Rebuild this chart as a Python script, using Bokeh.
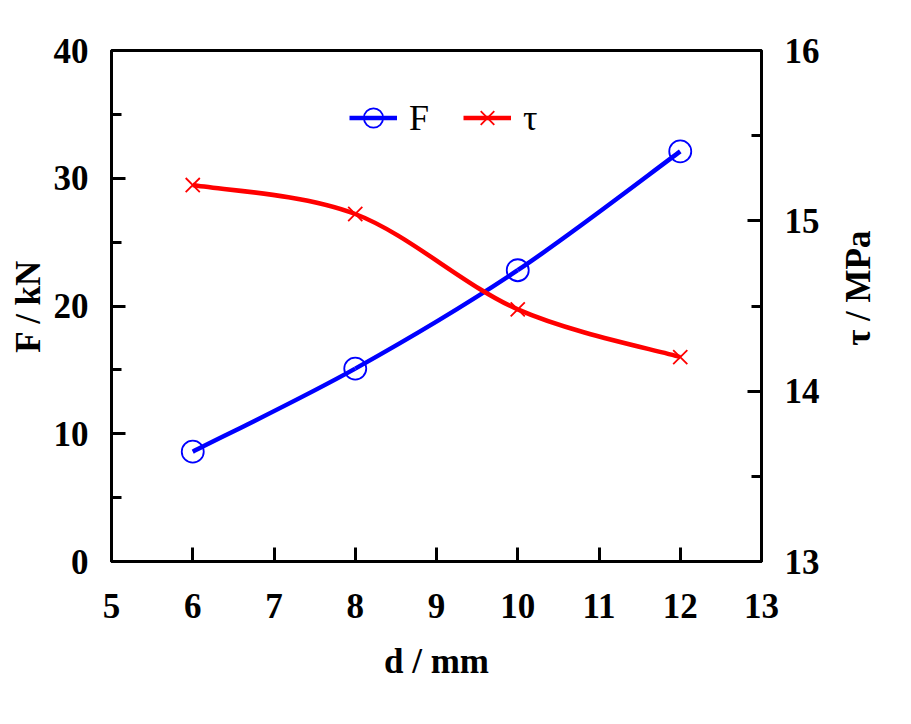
import math
import numpy as np
from bokeh.plotting import figure
from bokeh.layouts import row
from bokeh.models import (Range1d, LinearAxis, FixedTicker, Legend, LegendItem, Label)
from bokeh.embed import file_html
from bokeh.resources import INLINE

d_mm = [6, 8, 10, 12]
F_kN = [8.6, 15.1, 22.8, 32.1]
tau_MPa = [15.21, 15.04, 14.48, 14.20]

x_ticks = [5, 6, 7, 8, 9, 10, 11, 12, 13]
F_ticks = [0, 10, 20, 30, 40]
F_minor = [5, 15, 25, 35]
tau_ticks = [13, 14, 15, 16]
tau_minor = [13.5, 14.5, 15.5]

BLUE = "#0000FF"
RED = "#FF0000"
FONT = "Liberation Serif"
FS = "35px"

p = figure(width=835, height=716, output_backend="svg", toolbar_location=None,
           x_range=Range1d(5, 13), y_range=Range1d(0, 40),
           min_border_left=111, min_border_right=74, min_border_top=50,
           min_border_bottom=155, x_axis_location=None, y_axis_location=None)
p.extra_y_ranges = {"tau": Range1d(13, 16)}
p.xgrid.visible = False
p.ygrid.visible = False
p.outline_line_color = "black"
p.outline_line_width = 3
p.background_fill_color = "white"
p.border_fill_color = "white"


def style_axis(ax, label, ticks, minor):
    ax.ticker = FixedTicker(ticks=ticks, minor_ticks=minor)
    ax.axis_label = label
    ax.axis_line_width = 3
    ax.axis_line_color = "black"
    ax.major_tick_in = 14
    ax.major_tick_out = 0
    ax.minor_tick_in = 10
    ax.minor_tick_out = 0
    ax.major_tick_line_width = 3
    ax.minor_tick_line_width = 3
    ax.major_tick_line_color = "black"
    ax.minor_tick_line_color = "black"
    ax.major_label_text_font = FONT
    ax.major_label_text_font_style = "bold"
    ax.major_label_text_font_size = FS
    ax.major_label_text_color = "black"
    ax.axis_label_text_font = FONT
    ax.axis_label_text_font_style = "bold"
    ax.axis_label_text_font_size = FS
    ax.axis_label_text_color = "black"


xax = LinearAxis()
style_axis(xax, "d / mm", x_ticks, [])
xax.major_label_standoff = 32
xax.axis_label_standoff = 21
p.add_layout(xax, "below")

yax = LinearAxis()
style_axis(yax, "F / kN", F_ticks, F_minor)
yax.major_label_standoff = 23
yax.axis_label_standoff = 3
p.add_layout(yax, "left")

rax = LinearAxis(y_range_name="tau")
style_axis(rax, None, tau_ticks, tau_minor)
rax.major_label_standoff = 23
p.add_layout(rax, "right")


def smooth_segments(xs, ys):
    xs = np.asarray(xs, float)
    ys = np.asarray(ys, float)
    n = len(xs)
    x0, y0, x1, y1, cx0, cy0, cx1, cy1 = ([] for _ in range(8))
    for i in range(n - 1):
        im = max(i - 1, 0)
        ip2 = min(i + 2, n - 1)
        x0.append(xs[i]); y0.append(ys[i])
        x1.append(xs[i + 1]); y1.append(ys[i + 1])
        cx0.append(xs[i] + (xs[i + 1] - xs[im]) / 6)
        cy0.append(ys[i] + (ys[i + 1] - ys[im]) / 6)
        cx1.append(xs[i + 1] - (xs[ip2] - xs[i]) / 6)
        cy1.append(ys[i + 1] - (ys[ip2] - ys[i]) / 6)
    return dict(x0=x0, y0=y0, x1=x1, y1=y1, cx0=cx0, cy0=cy0, cx1=cx1, cy1=cy1)


fs = smooth_segments(d_mm, F_kN)
bF = p.bezier(line_color=BLUE, line_width=4.5, **fs)
ts = smooth_segments(d_mm, tau_MPa)
bT = p.bezier(line_color=RED, line_width=4.5, y_range_name="tau", **ts)

sF = p.scatter(d_mm, F_kN, marker="circle", size=22, fill_color=None,
               line_color=BLUE, line_width=1.8)
sT = p.scatter(d_mm, tau_MPa, marker="x", size=20, line_color=RED,
               line_width=1.8, y_range_name="tau")

legend = Legend(items=[LegendItem(label="F", renderers=[bF, sF], index=0),
                       LegendItem(label="τ", renderers=[bT, sT], index=0)],
                orientation="horizontal", location=(238, 416),
                border_line_color=None, background_fill_alpha=0,
                padding=0, margin=0, spacing=34,
                glyph_width=48, glyph_height=55, label_standoff=12,
                label_text_font=FONT, label_text_font_size="36px",
                label_text_color="black", label_height=30)
p.add_layout(legend, "center")

# narrow side strip holding the right-axis title (reads bottom-to-top)
p2 = figure(width=68, height=716, output_backend="svg", toolbar_location=None,
            x_range=Range1d(0, 68), y_range=Range1d(0, 716),
            min_border=0, x_axis_location=None, y_axis_location=None)
p2.xgrid.visible = False
p2.ygrid.visible = False
p2.outline_line_color = None
p2.background_fill_color = "white"
p2.border_fill_color = "white"
p2.add_layout(Label(x=23, y=716 - 333, text="τ / MPa", angle=math.pi / 2,
                    text_align="center", text_baseline="middle",
                    text_font=FONT, text_font_style="bold",
                    text_font_size=FS, text_color="black"))

layout = row(p, p2)
open("out.html", "w").write(file_html(layout, INLINE))
